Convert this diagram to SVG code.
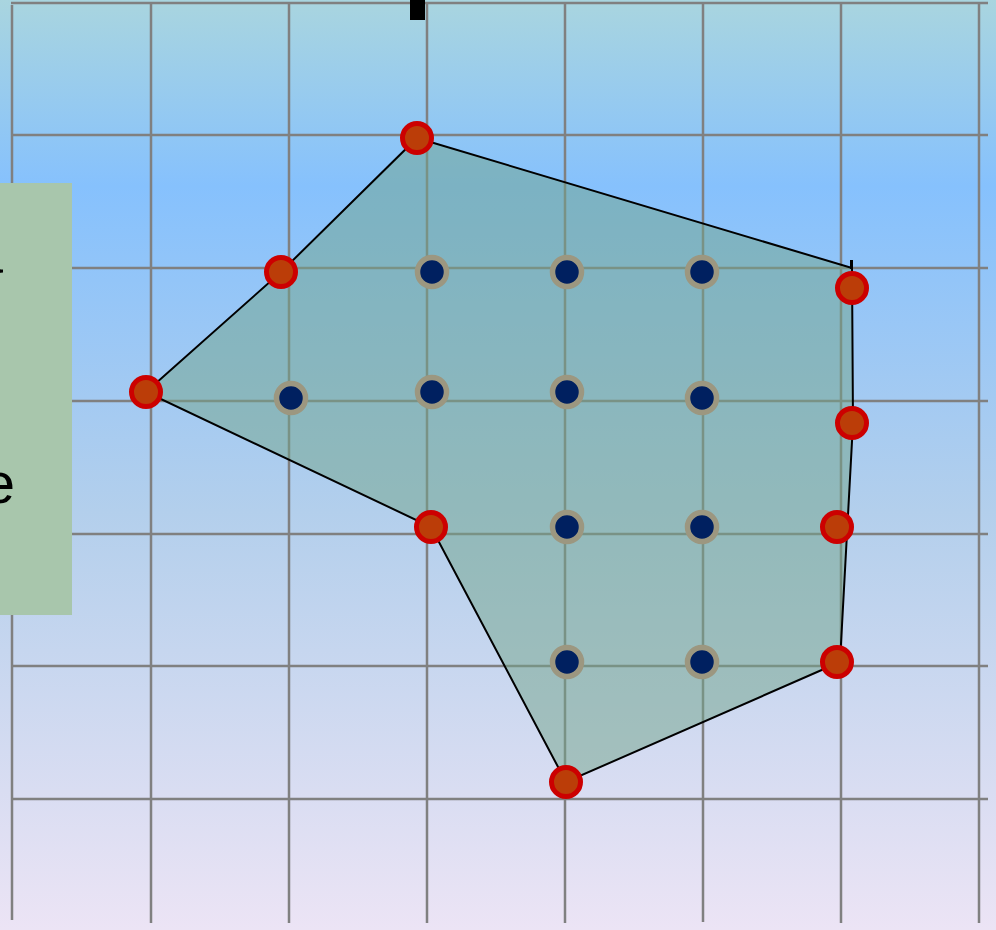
<svg xmlns="http://www.w3.org/2000/svg" width="996" height="930" viewBox="0 0 996 930">
  <defs>
    <linearGradient id="bg" x1="0" y1="0" x2="0" y2="1">
      <stop offset="0" stop-color="#a9d5df"/>
      <stop offset="0.2" stop-color="#86c1fd"/>
      <stop offset="0.55" stop-color="#b3cfec"/>
      <stop offset="1" stop-color="#ece4f5"/>
    </linearGradient>
    <style>
      .grid line { stroke: #808080; stroke-width: 2.5; }
      .hull { fill: #72a48a; fill-opacity: 0.5; stroke: #000; stroke-width: 2; stroke-linejoin: miter; }
      .ext { fill: #bb3d08; stroke: #cc0000; stroke-width: 5; }
      .int { fill: #002060; stroke: #9c9780; stroke-width: 5.5; }
      .lbl { font-family: "Liberation Sans", Arial, sans-serif; font-size: 58px; fill: #000; }
    </style>
  </defs>
  <rect x="0" y="0" width="996" height="930" fill="url(#bg)"/>

  <g id="grid" class="grid">
    <line x1="11" y1="3" x2="988" y2="3"/>
    <line x1="11" y1="135" x2="988" y2="135"/>
    <line x1="11" y1="268" x2="988" y2="268"/>
    <line x1="11" y1="401" x2="988" y2="401"/>
    <line x1="11" y1="534" x2="988" y2="534"/>
    <line x1="11" y1="666" x2="988" y2="666"/>
    <line x1="11" y1="799" x2="988" y2="799"/>
    <line x1="12" y1="5" x2="12" y2="920"/>
    <line x1="151" y1="3" x2="151" y2="923"/>
    <line x1="289" y1="3" x2="289" y2="923"/>
    <line x1="427" y1="3" x2="427" y2="923"/>
    <line x1="565" y1="3" x2="565" y2="923"/>
    <line x1="703" y1="3" x2="703" y2="922"/>
    <line x1="841" y1="3" x2="841" y2="923"/>
    <line x1="979" y1="3" x2="979" y2="923"/>
  </g>

  <g id="label-box">
    <rect x="0" y="183" width="72" height="432" fill="#a8c6ac"/>
    <text class="lbl" x="3" y="273" text-anchor="end">a</text>
    <text class="lbl" x="15" y="503" text-anchor="end">e</text>
  </g>

  <rect id="top-mark" x="410" y="0" width="15" height="20" fill="#000"/>

  <g id="connectors">
    <polygon class="hull" points="417,138 852,268 853,423 840,662 566,782 431,527 146,392 281,272"/>
    <line x1="851.5" y1="260" x2="851.5" y2="269" stroke="#000" stroke-width="3"/>
  </g>

  <g id="hull-points">
    <circle id="h1" class="ext" cx="417" cy="138" r="14.5"/>
    <circle id="h2" class="ext" cx="281" cy="272" r="14.5"/>
    <circle id="h3" class="ext" cx="146" cy="392" r="14.5"/>
    <circle id="h4" class="ext" cx="431" cy="527" r="14.5"/>
    <circle id="h5" class="ext" cx="566" cy="782" r="14.5"/>
    <circle id="h6" class="ext" cx="837" cy="662" r="14.5"/>
    <circle id="h7" class="ext" cx="837" cy="527" r="14.5"/>
    <circle id="h8" class="ext" cx="852" cy="423" r="14.5"/>
    <circle id="h9" class="ext" cx="852" cy="288" r="14.5"/>
  </g>

  <g id="inner-points">
    <circle id="p1" class="int" cx="432" cy="272" r="14.5"/>
    <circle id="p2" class="int" cx="567" cy="272" r="14.5"/>
    <circle id="p3" class="int" cx="702" cy="272" r="14.5"/>
    <circle id="p4" class="int" cx="291" cy="398" r="14.5"/>
    <circle id="p5" class="int" cx="432" cy="392" r="14.5"/>
    <circle id="p6" class="int" cx="567" cy="392" r="14.5"/>
    <circle id="p7" class="int" cx="702" cy="398" r="14.5"/>
    <circle id="p8" class="int" cx="567" cy="527" r="14.5"/>
    <circle id="p9" class="int" cx="702" cy="527" r="14.5"/>
    <circle id="p10" class="int" cx="567" cy="662" r="14.5"/>
    <circle id="p11" class="int" cx="702" cy="662" r="14.5"/>
  </g>
</svg>
